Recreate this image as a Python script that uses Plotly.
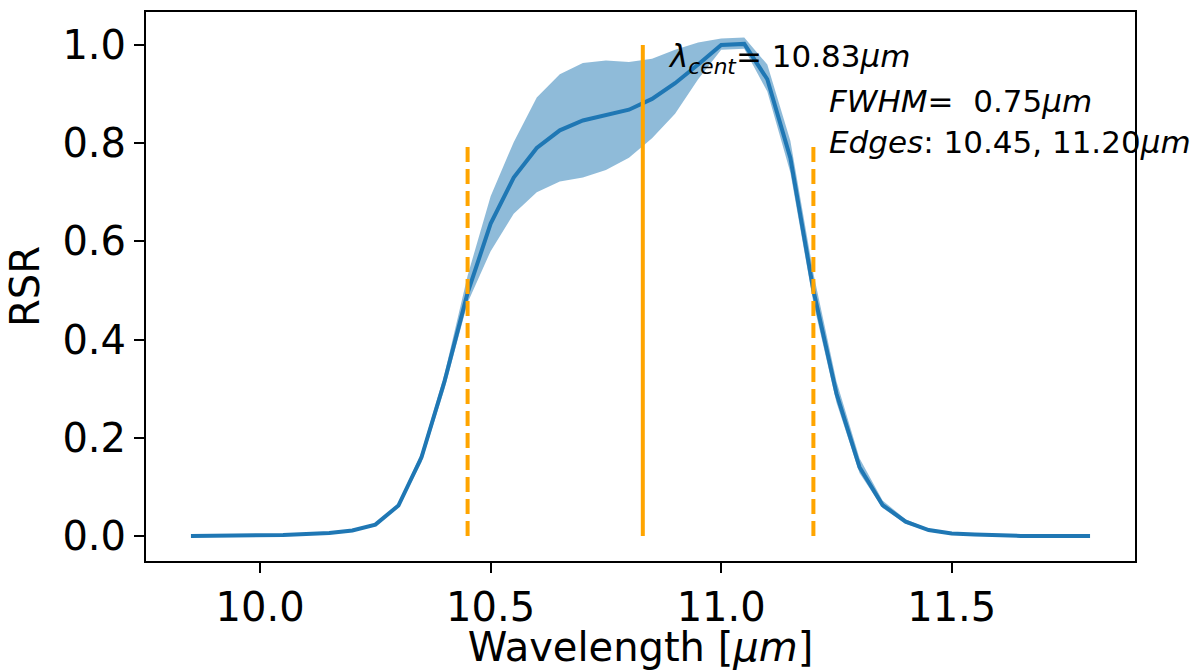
import plotly.graph_objects as go

# Spectral response samples (µm) and the averaged RSR with its min/max envelope
wavelength = [9.85, 9.90, 9.95, 10.00, 10.05, 10.10, 10.15, 10.20, 10.25, 10.30,
              10.35, 10.40, 10.45, 10.50, 10.55, 10.60, 10.65, 10.70, 10.75, 10.80,
              10.85, 10.90, 10.95, 11.00, 11.05, 11.10, 11.15, 11.20, 11.25, 11.30,
              11.35, 11.40, 11.45, 11.50, 11.55, 11.60, 11.65, 11.70, 11.75, 11.80]
rsr_mean = [0.0, 0.0, 0.0, 0.001, 0.002, 0.004, 0.006, 0.011, 0.023, 0.062,
            0.160, 0.315, 0.495, 0.636, 0.730, 0.790, 0.826, 0.846, 0.857, 0.868,
            0.890, 0.922, 0.960, 1.000, 1.002, 0.930, 0.770, 0.500, 0.290, 0.140,
            0.063, 0.029, 0.012, 0.005, 0.003, 0.001, 0.0, 0.0, 0.0, 0.0]
rsr_low = [0.0, 0.0, 0.0, 0.001, 0.002, 0.004, 0.006, 0.010, 0.021, 0.058,
           0.150, 0.300, 0.475, 0.580, 0.656, 0.700, 0.722, 0.730, 0.745, 0.770,
           0.810, 0.860, 0.930, 0.990, 0.992, 0.905, 0.740, 0.475, 0.272, 0.128,
           0.057, 0.025, 0.010, 0.004, 0.002, 0.001, 0.0, 0.0, 0.0, 0.0]
rsr_high = [0.0, 0.0, 0.0, 0.001, 0.002, 0.004, 0.006, 0.012, 0.025, 0.066,
            0.170, 0.330, 0.530, 0.692, 0.802, 0.893, 0.940, 0.963, 0.968, 0.965,
            0.972, 0.990, 1.005, 1.013, 1.015, 0.960, 0.805, 0.535, 0.315, 0.158,
            0.072, 0.034, 0.014, 0.006, 0.003, 0.001, 0.0, 0.0, 0.0, 0.0]

lam_cent = 10.83
edge_lo = 10.45
edge_hi = 11.20
fwhm = 0.75
edge_marker_top = 0.8
cent_marker_top = 1.0

x_ticks = [10.0, 10.5, 11.0, 11.5]
y_ticks = [0.0, 0.2, 0.4, 0.6, 0.8, 1.0]

BLUE = "#1f77b4"
ORANGE = "#ffa500"
FONT = "DejaVu Sans"

fig = go.Figure()

# min/max envelope
fig.add_trace(go.Scatter(x=wavelength, y=rsr_high, mode="lines",
                         line=dict(width=0), hoverinfo="skip", showlegend=False))
fig.add_trace(go.Scatter(x=wavelength, y=rsr_low, mode="lines",
                         line=dict(width=0), fill="tonexty",
                         fillcolor="rgba(31,119,180,0.5)", showlegend=False))
# mean response
fig.add_trace(go.Scatter(x=wavelength, y=rsr_mean, mode="lines",
                         line=dict(color=BLUE, width=4), showlegend=False))

# band edges and centre wavelength
for xe in (edge_lo, edge_hi):
    fig.add_trace(go.Scatter(x=[xe, xe], y=[0, edge_marker_top], mode="lines",
                             line=dict(color=ORANGE, width=4, dash="15px,7px"),
                             showlegend=False))
fig.add_trace(go.Scatter(x=[lam_cent, lam_cent], y=[0, cent_marker_top], mode="lines",
                         line=dict(color=ORANGE, width=4), showlegend=False))

ann_font = dict(family=FONT, size=31, color="black")
fig.add_annotation(x=lam_cent + 0.05, y=0.973, xref="x", yref="y",
                   text=f"<i>λ</i><sub><i>cent</i></sub>= {lam_cent:.2f}<i>μm</i>",
                   showarrow=False, xanchor="left", yanchor="middle", font=ann_font)
fig.add_annotation(x=edge_hi + 0.03, y=0.885, xref="x", yref="y",
                   text=f"<i>FWHM</i>=  {fwhm:.2f}<i>μm</i>",
                   showarrow=False, xanchor="left", yanchor="middle", font=ann_font)
fig.add_annotation(x=edge_hi + 0.03, y=0.803, xref="x", yref="y",
                   text=f"<i>Edges</i>: {edge_lo:.2f}, {edge_hi:.2f}<i>μm</i>",
                   showarrow=False, xanchor="left", yanchor="middle", font=ann_font)

axis_common = dict(showline=True, linecolor="black", linewidth=2, mirror=True,
                   ticks="outside", ticklen=10, tickwidth=2, tickcolor="black",
                   showgrid=False, zeroline=False, automargin=False,
                   tickfont=dict(family=FONT, size=40, color="black"))

fig.update_xaxes(range=[9.7525, 11.8975], tickvals=x_ticks,
                 ticktext=[f"{v:.1f}" for v in x_ticks],
                 title=dict(text="Wavelength [<i>μm</i>]", standoff=10,
                            font=dict(family=FONT, size=40, color="black")),
                 **axis_common)
fig.update_yaxes(range=[-0.051, 1.067], tickvals=y_ticks,
                 ticktext=[f"{v:.1f}" for v in y_ticks],
                 title=dict(text="RSR", standoff=10,
                            font=dict(family=FONT, size=40, color="black")),
                 **axis_common)

fig.update_layout(width=1194, height=670,
                  margin=dict(l=146, r=59, t=12, b=109),
                  plot_bgcolor="white", paper_bgcolor="white",
                  font=dict(family=FONT, color="black"))

fig.write_html("out.html")
